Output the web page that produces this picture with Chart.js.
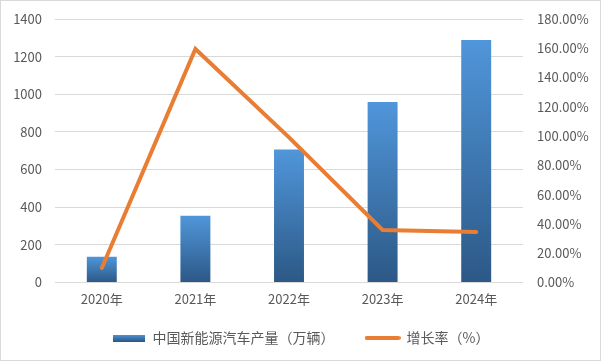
<!DOCTYPE html>
<html>
<head>
<meta charset="utf-8">
<script src="https://cdn.jsdelivr.net/npm/chart.js@4/dist/chart.umd.min.js"></script>
<style>
html,body{margin:0;padding:0;background:#fff;}
#wrap{width:601px;height:361px;box-sizing:border-box;border:1px solid #d9d9d9;position:relative;}
canvas{display:block;}
</style>
</head>
<body>
<div id="wrap"><canvas id="c" width="599" height="359"></canvas></div>
<script>
const years = ['2020年','2021年','2022年','2023年','2024年'];
const production = [136.6, 354.5, 705.8, 958.7, 1288.8];
const growth = [9.9, 159.5, 99.1, 35.8, 34.4];
const seriesNames = ['中国新能源汽车产量（万辆）', '增长率（%）'];

const FONT = '"Noto Sans CJK SC", "Noto Sans", sans-serif';
const TXT = '#595959';
const GRID = '#d9d9d9';
const ORANGE = '#E87D33';
const BLUE_TOP = '#5096DA';
const BLUE_BOT = '#2C5886';
const LEGEND_PAD = 31;
const LEGEND_SHIFT = 16;

function makeBarIcon(){
  const cv = document.createElement('canvas');
  cv.width = 32; cv.height = 7;
  const g = cv.getContext('2d');
  const gr = g.createLinearGradient(0,0,0,7);
  gr.addColorStop(0, BLUE_TOP); gr.addColorStop(1, BLUE_BOT);
  g.fillStyle = gr; g.fillRect(0,0,32,7);
  return cv;
}
function makeLineIcon(){
  const cv = document.createElement('canvas');
  cv.width = 36; cv.height = 6;
  const g = cv.getContext('2d');
  g.strokeStyle = ORANGE; g.lineWidth = 4; g.lineCap = 'round';
  g.beginPath(); g.moveTo(2,3); g.lineTo(34,3); g.stroke();
  return cv;
}
const barIcon = makeBarIcon();
const lineIcon = makeLineIcon();

// tighten the legend's vertical space without changing its horizontal item spacing
const legendTighten = {
  id: 'legendTighten',
  afterInit(chart) {
    const L = chart.legend;
    if (!L || L._patched) return;
    const f = L.fit.bind(L);
    L.fit = function(){ f(); this.height -= LEGEND_SHIFT; };
    L._patched = true;
  },
  afterLayout(chart) {
    const L = chart.legend;
    if (L) { L.top -= LEGEND_SHIFT; }
  }
};

new Chart(document.getElementById('c'), {
  plugins: [legendTighten],
  data: {
    labels: years,
    datasets: [
      {
        type: 'line',
        label: seriesNames[1],
        data: growth,
        yAxisID: 'y2',
        borderColor: ORANGE,
        borderWidth: 4,
        borderCapStyle: 'round',
        borderJoinStyle: 'miter',
        pointRadius: 0,
        pointHoverRadius: 0,
        tension: 0,
        order: 0
      },
      {
        type: 'bar',
        label: seriesNames[0],
        data: production,
        yAxisID: 'y',
        barPercentage: 0.32,
        categoryPercentage: 1,
        order: 1,
        backgroundColor: (ctx) => {
          const chart = ctx.chart;
          if (!chart.chartArea || ctx.type !== 'data') return BLUE_TOP;
          const ys = chart.scales.y;
          const top = ys.getPixelForValue(ctx.parsed.y);
          const base = ys.getPixelForValue(0);
          const gr = chart.ctx.createLinearGradient(0, top, 0, base);
          gr.addColorStop(0, BLUE_TOP);
          gr.addColorStop(1, BLUE_BOT);
          return gr;
        }
      }
    ]
  },
  options: {
    responsive: false,
    animation: false,
    layout: { padding: { top: 18, left: 0, right: 0, bottom: 5 } },
    plugins: {
      tooltip: { enabled: false },
      legend: {
        position: 'bottom',
        labels: {
          usePointStyle: true,
          pointStyleWidth: 34,
          padding: LEGEND_PAD,
          color: TXT,
          font: { family: FONT, size: 14 },
          generateLabels: () => [
            { text: seriesNames[0], pointStyle: barIcon, fontColor: TXT, lineWidth: 0, datasetIndex: 1, hidden: false },
            { text: seriesNames[1], pointStyle: lineIcon, fontColor: TXT, lineWidth: 0, datasetIndex: 0, hidden: false }
          ]
        }
      }
    },
    scales: {
      x: {
        grid: { display: false, drawTicks: false },
        border: { display: false },
        ticks: { color: TXT, font: { family: FONT, size: 13 }, padding: 9 }
      },
      y: {
        position: 'left',
        min: 0, max: 1400,
        ticks: { stepSize: 200, color: TXT, font: { family: FONT, size: 13 }, padding: 0,
                 callback: (v) => String(v) },
        grid: { color: GRID, lineWidth: 1, drawTicks: true, tickLength: 13, tickColor: 'rgba(0,0,0,0)' },
        border: { display: false },
        afterFit: (s) => { s.width = 54; }
      },
      y2: {
        position: 'right',
        min: 0, max: 180,
        ticks: { stepSize: 20, color: TXT, font: { family: FONT, size: 13 }, padding: 0,
                 callback: (v) => v.toFixed(2) + '%' },
        grid: { display: true, drawOnChartArea: false, color: 'rgba(0,0,0,0)', drawTicks: true, tickLength: 14, tickColor: 'rgba(0,0,0,0)' },
        border: { display: false },
        afterFit: (s) => { s.width = 77; }
      }
    }
  }
});
</script>
</body>
</html>
